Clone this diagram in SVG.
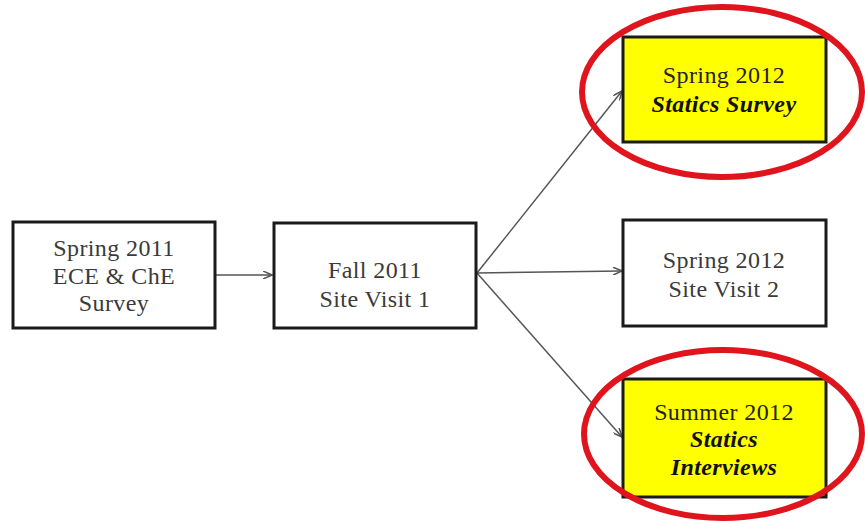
<svg xmlns="http://www.w3.org/2000/svg" width="865" height="521" viewBox="0 0 865 521">
<style>
.box{fill:#fff;stroke:#1a1a1a;stroke-width:3}
.hl{fill:#ffff00;stroke:#1a1a1a;stroke-width:3}
.ring{fill:none;stroke:#e0141c;stroke-width:6}
text{font-family:"Liberation Serif","Times New Roman",serif;font-size:24px;letter-spacing:0.4px;fill:#3a3a3a;text-anchor:middle}
.it{font-style:italic;font-weight:bold;fill:#111}
.hlt{fill:#222}
.conn{stroke:#555;stroke-width:1.5;fill:none;marker-end:url(#ah)}
</style>
<defs>
<marker id="ah" markerWidth="10" markerHeight="8" refX="9" refY="4" orient="auto" markerUnits="userSpaceOnUse">
<path d="M0,0 L9,4 L0,8" fill="none" stroke="#555" stroke-width="1.5"/>
</marker>
</defs>
<rect width="865" height="521" fill="#fff"/>
<g id="connectors">
<line class="conn" x1="215" y1="275" x2="272" y2="275"/>
<line class="conn" x1="477" y1="273" x2="622" y2="91"/>
<line class="conn" x1="477" y1="273" x2="622" y2="271"/>
<line class="conn" x1="477" y1="273" x2="622" y2="437"/>
</g>
<g id="n1">
<rect class="box" x="13" y="222" width="202" height="106"/>
<text x="114" y="256">Spring 2011</text>
<text x="114" y="284">ECE &amp; ChE</text>
<text x="114" y="311">Survey</text>
</g>
<g id="n2">
<rect class="box" x="274" y="223" width="202" height="105"/>
<text x="375" y="278">Fall 2011</text>
<text x="375" y="307">Site Visit 1</text>
</g>
<g id="n3">
<rect class="hl" x="623" y="37" width="203" height="105"/>
<text class="hlt" x="724" y="83">Spring 2012</text>
<text class="it" x="724" y="112">Statics Survey</text>
<ellipse class="ring" cx="722" cy="92" rx="140" ry="85"/>
</g>
<g id="n4">
<rect class="box" x="623" y="220" width="203" height="106"/>
<text x="724" y="268">Spring 2012</text>
<text x="724" y="297">Site Visit 2</text>
</g>
<g id="n5">
<rect class="hl" x="623" y="379" width="203" height="118"/>
<text class="hlt" x="724" y="420">Summer 2012</text>
<text class="it" x="724" y="447">Statics</text>
<text class="it" x="724" y="475">Interviews</text>
<ellipse class="ring" cx="723" cy="434" rx="139" ry="84"/>
</g>
</svg>
